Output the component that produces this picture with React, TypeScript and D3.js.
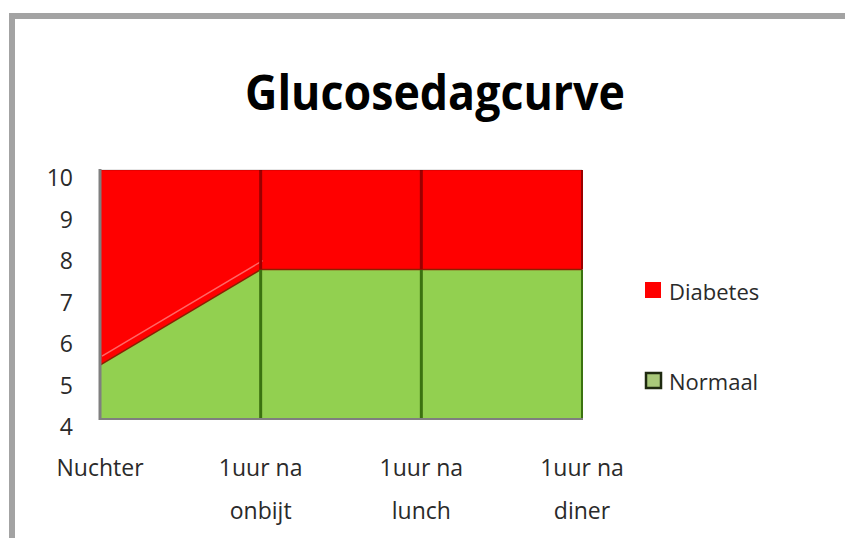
import React from "react";
import * as d3 from "d3";

const categories = ["Nuchter", "1uur na|onbijt", "1uur na|lunch", "1uur na|diner"];
const normaal = [5.3, 7.6, 7.6, 7.6];
const diabetesTop = [10, 10, 10, 10];
const yTicks = [4, 5, 6, 7, 8, 9, 10];
const seriesNames = ["Diabetes", "Normaal"];

const W = 845, H = 538;
const left = 100, right = 582, top = 170, bottom = 419;

export default function App() {
  const x = d3.scalePoint<string>().domain(categories).range([left, right]);
  const y = d3.scaleLinear().domain([4, 10]).range([bottom, top]);

  const rows = categories.map((c, i) => ({
    cat: c,
    normaal: normaal[i],
    diabetes: diabetesTop[i] - normaal[i],
  }));
  const stack = d3.stack<any>().keys(["normaal", "diabetes"]);
  const series = stack(rows);

  const area = d3
    .area<any>()
    .x((d) => x(d.data.cat) as number)
    .y0((d) => y(d[0]))
    .y1((d) => y(d[1]));

  const line = d3
    .line<any>()
    .x((d) => x(d.data.cat) as number)
    .y((d) => y(d[1]));

  const colors = { normaal: "#92D050", diabetes: "#FF0000" };
  const font = "'Open Sans', 'Noto Sans', sans-serif";

  return (
    <svg
      width={W}
      height={H}
      style={{ position: "absolute", left: 0, top: 0, background: "#fff" }}
      fontFamily={font}
    >
      <defs>
        <clipPath id="plot">
          <rect x={left} y={top} width={right - left} height={bottom - top} />
        </clipPath>
      </defs>
      {/* frame */}
      <rect x={9} y={13} width={W} height={6} fill="#a3a3a3" />
      <rect x={9} y={13} width={6} height={H} fill="#a3a3a3" />

      {/* title */}
      <text
        x={435}
        y={110}
        textAnchor="middle"
        fontSize={48}
        fontWeight="bold"
        fill="#000"
        textLength={380}
        lengthAdjust="spacingAndGlyphs"
      >
        Glucosedagcurve
      </text>

      {/* areas */}
      <g clipPath="url(#plot)">
        <path d={area(series[0] as any) || ""} fill={colors.normaal} />
        <path d={area(series[1] as any) || ""} fill={colors.diabetes} />
        <path
          d={line(series[0] as any) || ""}
          fill="none"
          stroke="#8a2000"
          strokeWidth={1.5}
        />
        <path
          d={line((series[0] as any).slice(0, 2)) || ""}
          fill="none"
          stroke="rgba(255,170,170,0.6)"
          strokeWidth={1.5}
          transform="translate(2,-9)"
        />
      </g>

      {/* drop lines */}
      {categories.slice(1).map((c, i) => {
        const last = c === categories[categories.length - 1];
        const v = normaal[i + 1];
        return (
          <g key={c}>
            <line
              x1={x(c)}
              x2={x(c)}
              y1={y(4)}
              y2={y(v)}
              stroke="#3b7210"
              strokeWidth={last ? 2 : 3}
            />
            <line
              x1={x(c)}
              x2={x(c)}
              y1={y(v)}
              y2={y(10)}
              stroke="#9a0000"
              strokeWidth={last ? 2 : 3}
            />
          </g>
        );
      })}
      <line x1={left} x2={right} y1={top} y2={top} stroke="rgba(0,0,0,0.2)" strokeWidth={1} />

      {/* axes */}
      <line x1={left} x2={left} y1={top - 1} y2={bottom + 1} stroke="#7f7f7f" strokeWidth={3} />
      <line x1={left} x2={right + 1} y1={bottom} y2={bottom} stroke="#7f7f7f" strokeWidth={2} />

      {yTicks.map((t) => (
        <text
          key={t}
          x={73}
          y={y(t) + 7}
          textAnchor="end"
          dominantBaseline="central"
          fontSize={23}
          fill="#2a2a2a"
        >
          {t}
        </text>
      ))}

      {categories.map((c) => {
        const parts = c.split("|");
        return (
          <text key={c} textAnchor="middle" fontSize={23} fill="#2a2a2a">
            {parts.map((p, i) => (
              <tspan key={i} x={x(c)} y={476 + i * 43}>
                {p}
              </tspan>
            ))}
          </text>
        );
      })}

      {/* legend */}
      {seriesNames.map((n, i) => {
        const yy = 282 + i * 90;
        const isD = n === "Diabetes";
        return (
          <g key={n}>
            <rect
              x={isD ? 645 : 646}
              y={isD ? yy : yy + 1}
              width={isD ? 16 : 15}
              height={isD ? 16 : 15}
              fill={isD ? colors.diabetes : "#a9c97a"}
              stroke={isD ? "none" : "#1f2a10"}
              strokeWidth={2.5}
            />
            <text x={669} y={yy + 18} fontSize={22} fill="#2a2a2a">
              {n}
            </text>
          </g>
        );
      })}
    </svg>
  );
}
